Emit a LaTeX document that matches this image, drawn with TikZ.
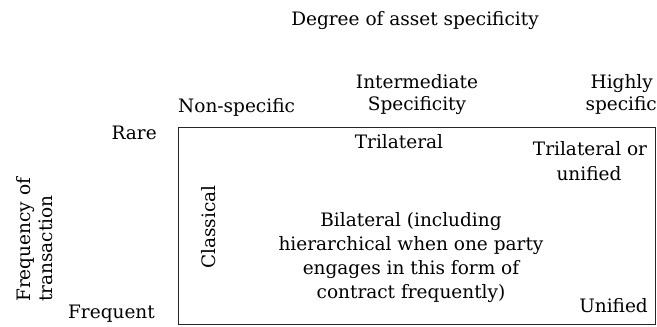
\documentclass[tikz,border=0pt]{standalone}
\usepackage{fontspec}
\setmainfont{DejaVu Serif}
\usepackage{tikz}
\tikzset{
  lbl/.style={inner sep=0pt, anchor=base, font=\fontsize{18.5}{24}\selectfont},
  frame/.style={line width=0.8pt, black!85},
}
\begin{document}
\begin{tikzpicture}[x=1pt,y=-1pt]
  \useasboundingbox (0,0) rectangle (657,327);

  % Box
  \coordinate (nw) at (178,127);
  \coordinate (se) at (655,324);
  \draw[frame] (nw) rectangle (se);

  % Column heads
  \node[lbl] (degree) at (415,25) {Degree of asset specificity};
  \node[lbl, anchor=base west] (nonspec) at (178,112) {Non-specific};
  \node[lbl] (inter1) at (417,88) {Intermediate};
  \node[lbl] (inter2) at (417,110) {Specificity};
  \node[lbl, anchor=base east] (high1) at (653,88) {Highly};
  \node[lbl, anchor=base east] (high2) at (657,110) {specific};

  % Row heads
  \node[lbl, anchor=base east] (rare) at (157,139) {Rare};
  \node[lbl, anchor=base east] (frequent) at (155,318) {Frequent};
  \node[lbl, anchor=north west, rotate=90, align=left] (freq) at (16,302)
    {Frequency of\\[-2pt]transaction};

  % Cells
  \node[lbl] (tri) at (399,148) {Trilateral};
  \node[lbl] (triuni1) at (590,155) {Trilateral or};
  \node[lbl] (triuni2) at (589,180) {unified};
  \node[lbl, anchor=center, rotate=90] (classical) at (209,227) {Classical};
  \foreach \txt [count=\i] in {Bilateral (including, hierarchical when one party,
      engages in this form of, contract frequently)}
    \node[lbl] (bi\i) at (411,202+24*\i) {\txt};
  \node[lbl, anchor=base east] (unified) at (648,312) {Unified};
\end{tikzpicture}
\end{document}
